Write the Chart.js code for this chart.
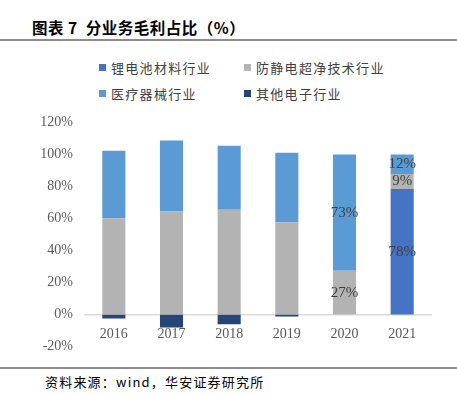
<!DOCTYPE html>
<html>
<head>
<meta charset="utf-8">
<script src="https://cdn.jsdelivr.net/npm/chart.js@4/dist/chart.umd.min.js"></script>
<style>
  body { margin: 0; width: 457px; height: 394px; background: #fff; position: relative; overflow: hidden; font-family: "Noto Sans CJK SC", sans-serif; }
  .titulo { position: absolute; left: 32px; top: 16px; font-size: 15.5px; font-weight: bold; color: #000; letter-spacing: 0.5px; }
  .linha { position: absolute; left: 0; width: 457px; height: 2px; background: #8c8c8c; }
  .legenda { position: absolute; font-size: 13px; color: #404040; letter-spacing: 1.3px; white-space: nowrap; line-height: 16px; }
  .legenda i { display: inline-block; width: 7px; height: 7px; margin-right: 5px; vertical-align: 2px; }
  .fonte { position: absolute; left: 45px; top: 372px; font-size: 13px; letter-spacing: 1.2px; color: #000; }
  #grafico { position: absolute; left: 0; top: 102px; width: 457px; height: 265px; }
</style>
</head>
<body>
<div class="titulo">图表 7&nbsp; 分业务毛利占比（%）</div>
<div class="linha" style="top:39px"></div>
<div id="legenda"></div>
<div id="grafico"><canvas id="graficoMargem"></canvas></div>
<div class="linha" style="top:367px;height:2px"></div>
<div class="fonte">资料来源：wind，华安证券研究所</div>
<script>
// dados (%)
const anos = ['2016', '2017', '2018', '2019', '2020', '2021'];
const series = ['锂电池材料行业', '防静电超净技术行业', '医疗器械行业', '其他电子行业'];
const bateria = [0, 0, 0, 0, 0, 78.4];
const antiestatico = [60.2, 64.4, 65.4, 57.5, 27.3, 9.4];
const medico = [42.1, 44.3, 40.0, 43.5, 72.6, 12.1];
const outros = [-2.5, -8.0, -6.0, -1.2, 0, 0];
const anosComRotulo = ['2020', '2021'];
const yTicks = [-20, 0, 20, 40, 60, 80, 100, 120];
const cores = ['#4472C4', '#B3B3B3', '#5B9BD5', '#264478'];

// legenda em duas colunas
const posLegenda = [[99, 60], [244, 60], [99, 86], [244, 86]];
const leg = document.getElementById('legenda');
series.forEach((nome, i) => {
  const d = document.createElement('div');
  d.className = 'legenda';
  d.style.left = posLegenda[i][0] + 'px';
  d.style.top = posLegenda[i][1] + 'px';
  d.innerHTML = '<i style="background:' + cores[i] + '"></i>' + nome;
  leg.appendChild(d);
});

// rótulos só em 2020 e 2021
const rotulos = {
  id: 'rotulos',
  afterDatasetsDraw(chart) {
    const ctx = chart.ctx;
    ctx.save();
    ctx.font = '15px "Liberation Serif"';
    ctx.fillStyle = '#404040';
    ctx.textAlign = 'center';
    ctx.textBaseline = 'middle';
    chart.data.datasets.forEach((ds, i) => {
      chart.getDatasetMeta(i).data.forEach((bar, j) => {
        const v = ds.data[j];
        if (!anosComRotulo.includes(anos[j]) || !v) return;
        const p = bar.getProps(['x', 'y', 'base'], true);
        ctx.fillText(Math.round(v) + '%', p.x, (p.y + p.base) / 2);
      });
    });
    ctx.restore();
  }
};

const ctx = document.getElementById('graficoMargem').getContext('2d');
new Chart(ctx, {
  type: 'bar',
  data: {
    labels: anos,
    datasets: [
      { label: series[0], data: bateria, backgroundColor: cores[0] },
      { label: series[1], data: antiestatico, backgroundColor: cores[1] },
      { label: series[2], data: medico, backgroundColor: cores[2] },
      { label: series[3], data: outros, backgroundColor: cores[3] }
    ]
  },
  options: {
    responsive: true,
    maintainAspectRatio: false,
    animation: false,
    datasets: { bar: { barPercentage: 0.4, categoryPercentage: 1 } },
    layout: { padding: { top: 0, bottom: 0, right: 26 } },
    plugins: { legend: { display: false }, tooltip: { enabled: false } },
    scales: {
      x: {
        stacked: true,
        position: { y: 0 },
        grid: { display: false },
        border: { color: '#d9d9d9', width: 1.5 },
        ticks: { color: '#595959', font: { family: 'Liberation Serif', size: 14 }, padding: 3 }
      },
      y: {
        stacked: true,
        min: -20,
        max: 120,
        afterFit(scale) { scale.width = 85; },
        afterBuildTicks(scale) { scale.ticks = yTicks.map(v => ({ value: v })); },
        grid: { display: false, drawTicks: false },
        border: { display: false },
        ticks: {
          color: '#595959',
          font: { family: 'Liberation Serif', size: 14 },
          padding: 12,
          callback: v => v + '%'
        }
      }
    }
  },
  plugins: [rotulos]
});
</script>
</body>
</html>
